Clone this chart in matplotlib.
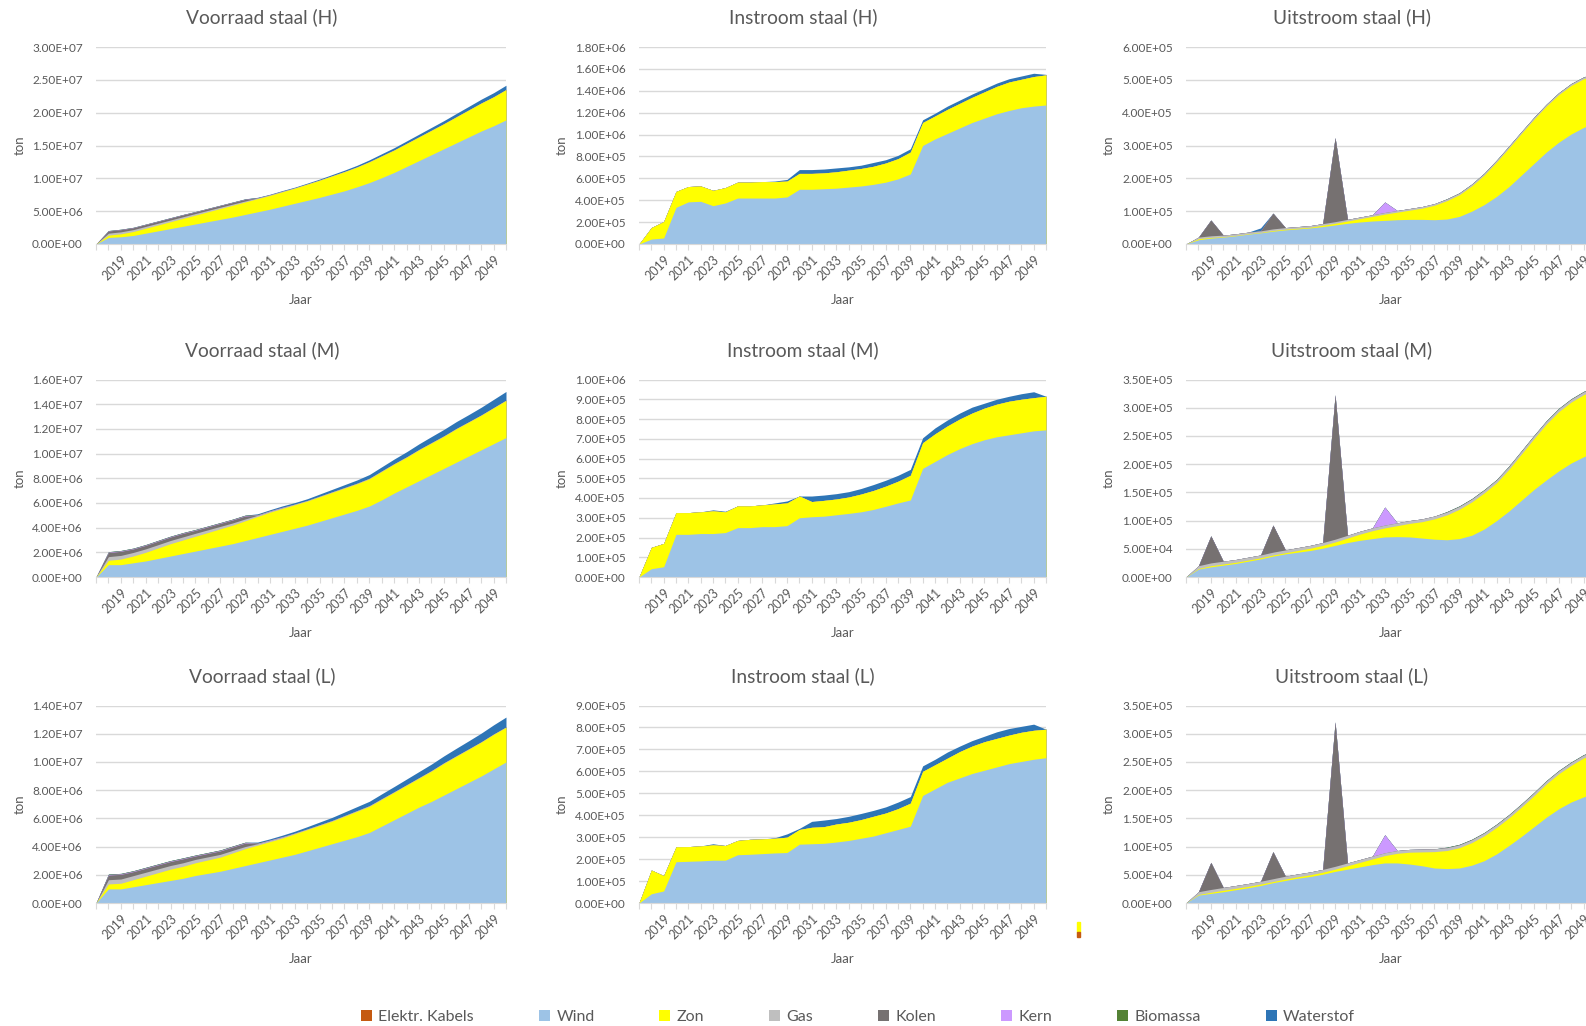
import numpy as np
import matplotlib.pyplot as plt
from matplotlib.patches import Patch, Rectangle
from matplotlib.ticker import MultipleLocator, FuncFormatter

plt.rcParams['font.family'] = ['Lato', 'DejaVu Sans']

TEXT = '#595959'
W, H = 1586, 1026

# categories: first slot is an empty category (value 0), then 2018..2050
years = [2018, 2019, 2020, 2021, 2022, 2023, 2024, 2025, 2026, 2027, 2028,
         2029, 2030, 2031, 2032, 2033, 2034, 2035, 2036, 2037, 2038, 2039,
         2040, 2041, 2042, 2043, 2044, 2045, 2046, 2047, 2048, 2049, 2050]
categories = [''] + [str(y) for y in years]

series_names = ['Elektr. Kabels', 'Wind', 'Zon', 'Gas', 'Kolen', 'Kern', 'Biomassa', 'Waterstof']
colors = ['#C55A11', '#9DC3E6', '#FFFF00', '#BFBFBF', '#767171', '#CC99FF', '#548235', '#2E75B6']

zeros = [0, 0, 0, 0, 0, 0, 0, 0, 0, 0, 0, 0, 0, 0, 0, 0, 0,
         0, 0, 0, 0, 0, 0, 0, 0, 0, 0, 0, 0, 0, 0, 0, 0]
elektr_kabels = zeros

# ---- Voorraad (stock), 1e6 ton ----
vh_wind = [1.0, 1.1, 1.3, 1.65, 2.0, 2.35, 2.7, 3.05, 3.4, 3.75, 4.1, 4.5, 4.9, 5.3, 5.75, 6.2, 6.65,
           7.1, 7.6, 8.1, 8.7, 9.35, 10.1, 10.9, 11.8, 12.7, 13.6, 14.5, 15.4, 16.3, 17.2, 18.0, 18.9]
vh_zon = [0.35, 0.45, 0.6, 0.75, 0.9, 1.05, 1.2, 1.35, 1.5, 1.65, 1.8, 1.9, 2.0, 2.1, 2.2, 2.3, 2.45,
          2.6, 2.75, 2.9, 3.0, 3.15, 3.3, 3.4, 3.5, 3.6, 3.7, 3.8, 3.95, 4.1, 4.25, 4.4, 4.6]
vh_waterstof = [0, 0, 0, 0, 0, 0, 0, 0, 0, 0, 0, 0.02, 0.04, 0.06, 0.08, 0.1, 0.12,
                0.14, 0.17, 0.2, 0.23, 0.27, 0.3, 0.33, 0.36, 0.39, 0.42, 0.45, 0.49, 0.53, 0.57, 0.61, 0.65]

vm_wind = [1.0, 1.0, 1.15, 1.3, 1.5, 1.7, 1.9, 2.1, 2.3, 2.5, 2.7, 2.95, 3.2, 3.45, 3.7, 3.95, 4.2,
           4.5, 4.8, 5.1, 5.4, 5.75, 6.25, 6.8, 7.3, 7.8, 8.3, 8.8, 9.3, 9.8, 10.3, 10.8, 11.3]
vm_zon = [0.35, 0.45, 0.55, 0.7, 0.85, 1.0, 1.1, 1.2, 1.3, 1.4, 1.5, 1.6, 1.7, 1.8, 1.85, 1.9, 1.95,
          2.0, 2.05, 2.1, 2.15, 2.2, 2.3, 2.35, 2.4, 2.5, 2.55, 2.6, 2.7, 2.75, 2.8, 2.9, 3.0]
vm_waterstof = [0, 0, 0, 0, 0, 0, 0, 0, 0, 0, 0, 0, 0.05, 0.08, 0.1, 0.12, 0.14,
                0.17, 0.2, 0.23, 0.26, 0.3, 0.33, 0.37, 0.41, 0.45, 0.49, 0.52, 0.55, 0.58, 0.62, 0.66, 0.7]

vl_wind = [1.0, 1.0, 1.15, 1.3, 1.45, 1.6, 1.75, 1.95, 2.1, 2.25, 2.45, 2.65, 2.85, 3.05, 3.25, 3.45, 3.7,
           3.95, 4.2, 4.45, 4.7, 5.0, 5.45, 5.9, 6.35, 6.8, 7.2, 7.65, 8.1, 8.55, 9.0, 9.5, 10.0]
vl_zon = [0.35, 0.4, 0.5, 0.6, 0.7, 0.8, 0.85, 0.9, 0.95, 1.0, 1.1, 1.2, 1.25, 1.3, 1.35, 1.45, 1.5,
          1.55, 1.6, 1.7, 1.8, 1.85, 1.9, 1.95, 2.0, 2.05, 2.15, 2.25, 2.3, 2.35, 2.4, 2.45, 2.45]
vl_waterstof = [0, 0, 0, 0, 0, 0, 0, 0, 0, 0, 0, 0, 0.05, 0.08, 0.1, 0.13, 0.16,
                0.19, 0.22, 0.25, 0.28, 0.31, 0.34, 0.37, 0.4, 0.43, 0.46, 0.49, 0.53, 0.57, 0.61, 0.65, 0.7]

# conventional plants, same in every scenario
stock_gas = [0.3, 0.3, 0.29, 0.28, 0.27, 0.26, 0.25, 0.24, 0.22, 0.2, 0.18, 0.15, 0.1, 0.08, 0.07, 0.06, 0.05,
             0.05, 0.05, 0.05, 0.05, 0.05, 0.05, 0.04, 0.04, 0.04, 0.04, 0.04, 0.04, 0.03, 0.03, 0.03, 0.03]
stock_kolen = [0.33, 0.33, 0.28, 0.28, 0.28, 0.28, 0.28, 0.24, 0.24, 0.24, 0.24, 0.24, 0, 0, 0, 0, 0,
               0, 0, 0, 0, 0, 0, 0, 0, 0, 0, 0, 0, 0, 0, 0, 0]
stock_kern = [0.04, 0.04, 0.04, 0.04, 0.04, 0.04, 0.04, 0.04, 0.04, 0.04, 0.04, 0.04, 0.04, 0.04, 0.04, 0, 0,
              0, 0, 0, 0, 0, 0, 0, 0, 0, 0, 0, 0, 0, 0, 0, 0]
stock_biomassa = [0.03, 0.03, 0.03, 0.03, 0.03, 0.03, 0.03, 0.03, 0.03, 0.03, 0.03, 0.03, 0.03, 0, 0, 0, 0,
                  0, 0, 0, 0, 0, 0, 0, 0, 0, 0, 0, 0, 0, 0, 0, 0]

# ---- Instroom (inflow), 1e5 ton ----
ih_wind = [0.45, 0.55, 3.35, 3.85, 3.9, 3.5, 3.75, 4.2, 4.2, 4.2, 4.2, 4.3, 5.0, 5.0, 5.05, 5.1, 5.2,
           5.3, 5.45, 5.65, 5.95, 6.4, 9.0, 9.6, 10.1, 10.6, 11.1, 11.5, 11.9, 12.2, 12.45, 12.6, 12.7]
ih_zon = [1.05, 1.5, 1.45, 1.4, 1.4, 1.4, 1.4, 1.45, 1.45, 1.5, 1.5, 1.45, 1.45, 1.45, 1.45, 1.5, 1.55,
          1.6, 1.65, 1.75, 1.85, 2.0, 2.1, 2.1, 2.2, 2.25, 2.3, 2.4, 2.5, 2.6, 2.6, 2.7, 2.75]
ih_waterstof = [0, 0, 0, 0, 0, 0, 0, 0, 0, 0, 0.05, 0.15, 0.35, 0.35, 0.35, 0.35, 0.3,
                0.3, 0.35, 0.3, 0.3, 0.3, 0.25, 0.25, 0.3, 0.3, 0.3, 0.3, 0.3, 0.3, 0.3, 0.3, 0.05]

im_wind = [0.42, 0.52, 2.16, 2.16, 2.2, 2.2, 2.25, 2.5, 2.5, 2.55, 2.55, 2.6, 3.0, 3.05, 3.08, 3.15, 3.22,
           3.3, 3.42, 3.58, 3.75, 3.9, 5.5, 5.85, 6.2, 6.5, 6.75, 6.95, 7.1, 7.2, 7.3, 7.4, 7.45]
im_zon = [1.08, 1.18, 1.1, 1.1, 1.1, 1.15, 1.05, 1.1, 1.1, 1.1, 1.15, 1.15, 1.1, 0.77, 0.8, 0.8, 0.83,
          0.9, 0.96, 1.02, 1.1, 1.25, 1.3, 1.4, 1.45, 1.5, 1.55, 1.6, 1.65, 1.7, 1.7, 1.68, 1.7]
im_waterstof = [0, 0, 0, 0, 0, 0.05, 0.03, 0, 0, 0, 0.05, 0.1, 0, 0.28, 0.27, 0.27, 0.27,
                0.28, 0.3, 0.3, 0.3, 0.3, 0.25, 0.3, 0.3, 0.3, 0.3, 0.25, 0.25, 0.25, 0.28, 0.3, 0]

il_wind = [0.42, 0.55, 1.88, 1.9, 1.92, 1.95, 1.95, 2.2, 2.22, 2.25, 2.28, 2.3, 2.68, 2.7, 2.72, 2.78, 2.85,
           2.95, 3.05, 3.2, 3.35, 3.5, 4.9, 5.2, 5.5, 5.7, 5.9, 6.05, 6.2, 6.35, 6.45, 6.55, 6.62]
il_zon = [1.08, 0.7, 0.68, 0.67, 0.68, 0.7, 0.67, 0.65, 0.68, 0.67, 0.67, 0.7, 0.67, 0.75, 0.76, 0.82, 0.83,
          0.85, 0.9, 0.9, 0.95, 1.05, 1.1, 1.1, 1.1, 1.2, 1.25, 1.3, 1.3, 1.3, 1.33, 1.32, 1.3]
il_waterstof = [0, 0, 0, 0, 0, 0.05, 0, 0, 0, 0, 0.02, 0.15, 0.05, 0.27, 0.3, 0.25, 0.27,
                0.28, 0.27, 0.28, 0.3, 0.3, 0.25, 0.25, 0.28, 0.25, 0.25, 0.25, 0.3, 0.3, 0.27, 0.28, 0]

# ---- Uitstroom (outflow), 1e4 ton ----
uh_wind = [1.3, 1.8, 2.1, 2.5, 3.0, 3.4, 3.9, 4.3, 4.6, 4.9, 5.3, 5.8, 6.3, 6.7, 7.0, 7.2, 7.4,
           7.5, 7.5, 7.4, 7.6, 8.4, 10.0, 12.0, 14.5, 17.5, 21.0, 24.5, 28.0, 31.0, 33.5, 35.5, 37.0]
uh_zon = [0.3, 0.2, 0.1, 0.1, 0.1, 0.1, 0.2, 0.2, 0.2, 0.2, 0.4, 0.5, 0.7, 1.0, 1.4, 1.9, 2.3,
          2.8, 3.4, 4.4, 5.6, 6.6, 7.7, 9.0, 10.5, 11.8, 12.7, 13.5, 14.0, 14.5, 14.8, 14.8, 14.5]
uh_waterstof = [0, 0, 0, 0, 0, 0.9, 0, 0, 0, 0, 0, 0, 0, 0, 0, 0, 0,
                0, 0, 0, 0, 0, 0, 0, 0, 0, 0, 0, 0, 0, 0, 0, 0]

um_wind = [1.4, 1.8, 2.1, 2.4, 2.8, 3.2, 3.7, 4.1, 4.4, 4.7, 5.1, 5.6, 6.1, 6.5, 6.8, 7.1, 7.15,
           7.1, 6.9, 6.7, 6.6, 6.8, 7.4, 8.5, 10.0, 11.7, 13.6, 15.5, 17.2, 18.8, 20.2, 21.3, 22.2]
um_zon = [0.1, 0.2, 0.2, 0.2, 0.2, 0.2, 0.2, 0.2, 0.3, 0.4, 0.5, 0.6, 0.8, 1.1, 1.4, 1.6, 1.95,
          2.4, 2.9, 3.6, 4.4, 5.2, 5.9, 6.4, 6.7, 7.4, 8.2, 9.0, 9.9, 10.5, 10.8, 11.0, 11.1]

ul_wind = [1.4, 1.7, 2.0, 2.35, 2.7, 3.1, 3.6, 4.0, 4.4, 4.7, 5.1, 5.6, 6.0, 6.4, 6.8, 7.1, 7.1,
           6.9, 6.6, 6.2, 6.1, 6.2, 6.7, 7.5, 8.7, 10.2, 11.8, 13.5, 15.2, 16.7, 17.9, 18.8, 19.5]
ul_zon = [0.1, 0.2, 0.25, 0.25, 0.25, 0.25, 0.2, 0.25, 0.25, 0.3, 0.35, 0.4, 0.6, 0.8, 1.0, 1.3, 1.7,
          2.1, 2.45, 2.9, 3.2, 3.6, 4.0, 4.4, 4.7, 4.9, 5.2, 5.5, 5.9, 6.2, 6.5, 6.9, 7.0]

out_gas = [0.5, 0.5, 0.5, 0.5, 0.5, 0.5, 0.5, 0.5, 0.5, 0.5, 0.5, 0.5, 0.5, 0.5, 0.5, 0.5, 0.5,
           0.5, 0.5, 0.5, 0.5, 0.5, 0.5, 0.5, 0.5, 0.5, 0.5, 0.5, 0.5, 0.5, 0.5, 0.5, 0.5]
out_kolen = [0, 4.8, 0, 0, 0, 0, 4.8, 0, 0, 0, 0, 25.6, 0, 0, 0, 0, 0,
             0, 0, 0, 0, 0, 0, 0, 0, 0, 0, 0, 0, 0, 0, 0, 0]
out_kern = [0, 0, 0, 0, 0, 0, 0, 0, 0, 0, 0, 0, 0, 0, 0, 3.2, 0,
            0, 0, 0, 0, 0, 0, 0, 0, 0, 0, 0, 0, 0, 0, 0, 0]
out_biomassa = [0, 0, 0, 0, 0, 0, 0, 0, 0, 0, 0, 0, 0, 0, 0, 0, 0,
                0, 0, 0, 0.1, 0.1, 0.1, 0.1, 0.1, 0.1, 0.1, 0.1, 0.1, 0.1, 0.1, 0.1, 0.1]


def stock(wind, zon, h2):
    return [elektr_kabels, wind, zon, stock_gas, stock_kolen, stock_kern, stock_biomassa, h2]


def inflow(wind, zon, h2):
    return [elektr_kabels, wind, zon, zeros, zeros, zeros, zeros, h2]


def outflow(wind, zon, h2):
    return [elektr_kabels, wind, zon, out_gas, out_kolen, out_kern, out_biomassa, h2]


# (title, series, unit, ymax, ystep)
panels = [
    [("Voorraad staal (H)", stock(vh_wind, vh_zon, vh_waterstof), 1e6, 3.0e7, 5e6),
     ("Instroom staal (H)", inflow(ih_wind, ih_zon, ih_waterstof), 1e5, 1.8e6, 2e5),
     ("Uitstroom staal (H)", outflow(uh_wind, uh_zon, uh_waterstof), 1e4, 6.0e5, 1e5)],
    [("Voorraad staal (M)", stock(vm_wind, vm_zon, vm_waterstof), 1e6, 1.6e7, 2e6),
     ("Instroom staal (M)", inflow(im_wind, im_zon, im_waterstof), 1e5, 1.0e6, 1e5),
     ("Uitstroom staal (M)", outflow(um_wind, um_zon, zeros), 1e4, 3.5e5, 5e4)],
    [("Voorraad staal (L)", stock(vl_wind, vl_zon, vl_waterstof), 1e6, 1.4e7, 2e6),
     ("Instroom staal (L)", inflow(il_wind, il_zon, il_waterstof), 1e5, 9.0e5, 1e5),
     ("Uitstroom staal (L)", outflow(ul_wind, ul_zon, zeros), 1e4, 3.5e5, 5e4)],
]

# layout in pixels of the reference
col_left = [96, 639, 1186]
col_width = [410, 407, 410]
row_top = [47, 379.5, 705.5]
row_bottom = [244, 577, 903]
title_x = [262, 803, 1352]
title_y = [17, 350, 676]
ton_x = [20, 562, 1109]

fig = plt.figure(figsize=(W / 100, H / 100), dpi=100)

x = np.arange(len(categories))
for r, row in enumerate(panels):
    for c, (title, series, unit, ymax, ystep) in enumerate(row):
        ax = fig.add_axes([col_left[c] / W, 1 - row_bottom[r] / H,
                           col_width[c] / W, (row_bottom[r] - row_top[r]) / H])
        vals = np.array([[0] + list(s) for s in series], dtype=float) * unit
        cum = np.cumsum(vals, axis=0)
        # paint from the top layer down so layers never show seams
        for k in range(len(series) - 1, -1, -1):
            ax.fill_between(x, 0, cum[k], color=colors[k], lw=0, zorder=2)

        ax.set_xlim(0, len(categories) - 1)
        ax.set_ylim(0, ymax)
        ax.yaxis.set_major_locator(MultipleLocator(ystep))
        ax.yaxis.set_major_formatter(FuncFormatter(lambda v, p: f"{v:.2E}"))
        ax.yaxis.grid(True, color='#D9D9D9', lw=1.0, zorder=1)
        ax.set_axisbelow(True)
        for s in ['top', 'right', 'left']:
            ax.spines[s].set_visible(False)
        ax.spines['bottom'].set_color('#D9D9D9')
        ax.spines['bottom'].set_zorder(3)
        ax.set_xticks(x)
        ax.set_xticklabels([lab if i % 2 == 0 else '' for i, lab in enumerate(categories)],
                           rotation=45, ha='right', rotation_mode='anchor')
        ax.tick_params(axis='x', direction='out', length=4, color='#D9D9D9',
                       labelsize=9, labelcolor=TEXT, pad=3)
        ax.tick_params(axis='y', length=0, labelsize=8.5, labelcolor=TEXT, pad=9.5)

        fig.text(title_x[c] / W, 1 - title_y[r] / H, title, ha='center', va='center',
                 fontsize=13.8, color=TEXT)
        fig.text(ton_x[c] / W, 1 - (row_top[r] + row_bottom[r]) / 2 / H, 'ton',
                 rotation=90, ha='center', va='center', fontsize=9.5, color=TEXT)
        fig.text((col_left[c] + col_width[c] / 2) / W, 1 - (row_bottom[r] + 56) / H, 'Jaar',
                 ha='center', va='center', fontsize=9.5, color=TEXT)

# small cut-off fragment visible in the reference
fig.patches.append(Rectangle((1077 / W, 1 - 932 / H), 3 / W, 10 / H, color='#FFFF00',
                             transform=fig.transFigure, figure=fig))
fig.patches.append(Rectangle((1077 / W, 1 - 937 / H), 3 / W, 5 / H, color='#C55A11',
                             transform=fig.transFigure, figure=fig))

handles = [Patch(facecolor=col, edgecolor='none', label=name)
           for name, col in zip(series_names, colors)]
fig.legend(handles=handles, loc='center', bbox_to_anchor=(858 / W, 1 - 1017 / H), ncol=8,
           frameon=False, fontsize=11.5, labelcolor=TEXT, handlelength=0.7, handleheight=0.7,
           handletextpad=0.4, columnspacing=4.05)

fig.savefig('out.png', dpi=100)
